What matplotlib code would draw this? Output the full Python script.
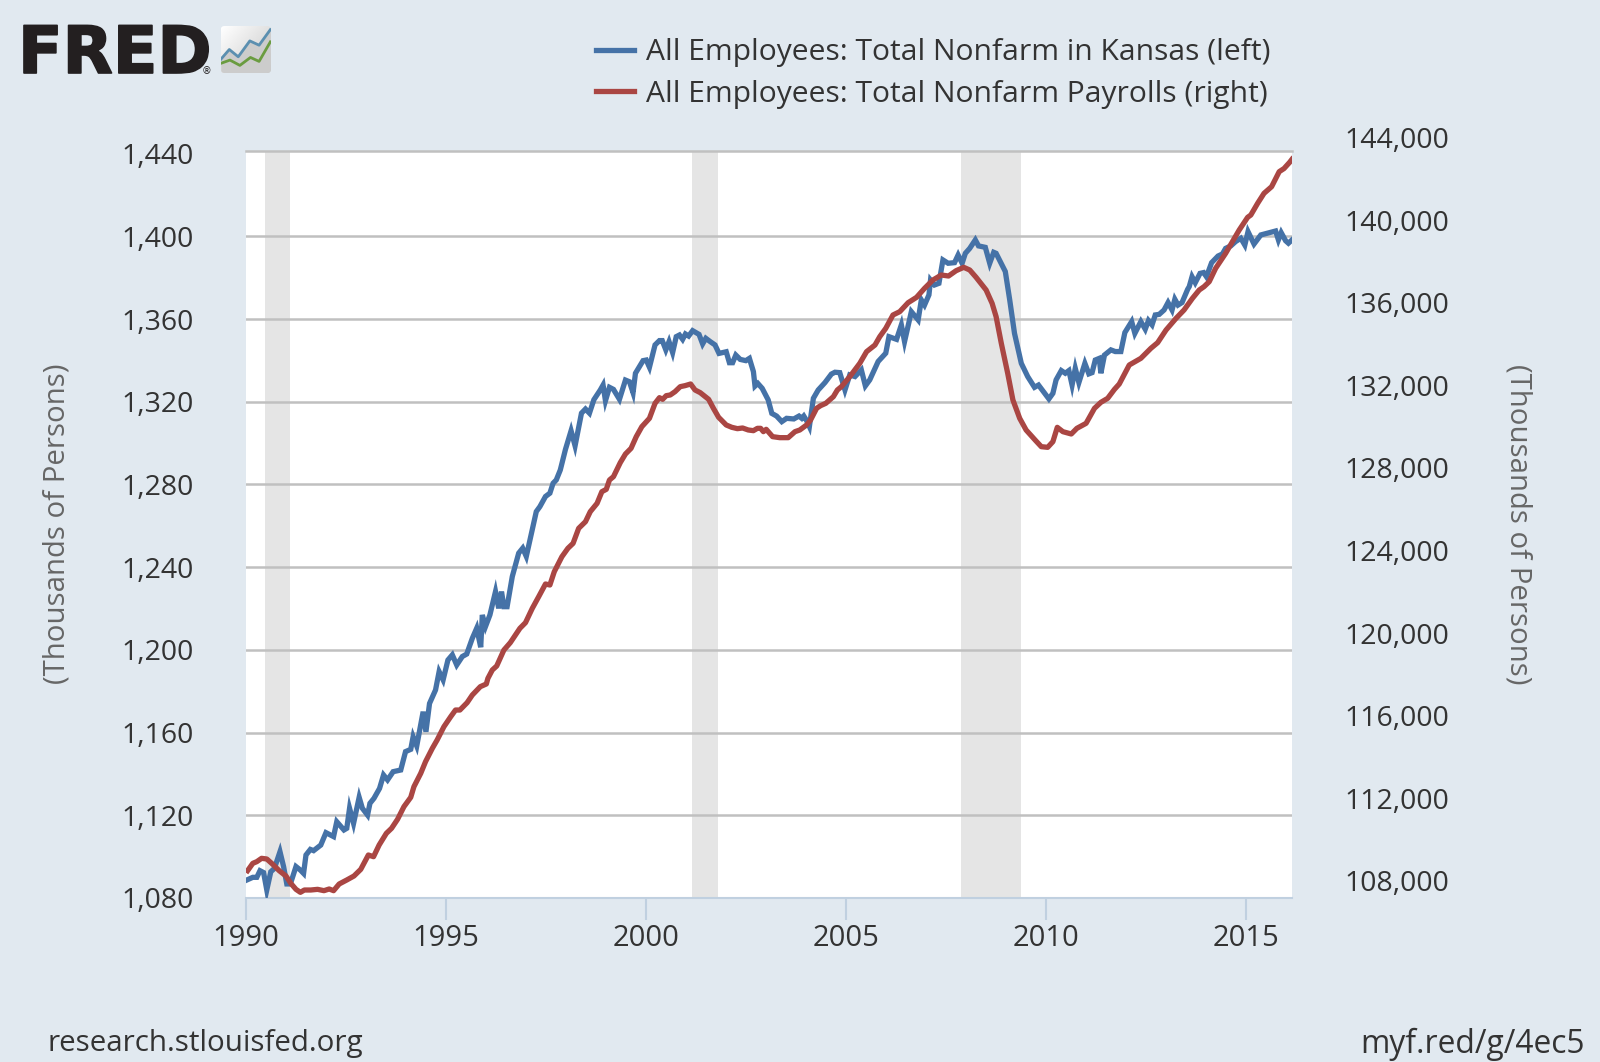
import matplotlib
matplotlib.use("Agg")
import matplotlib.pyplot as plt
import matplotlib.patheffects as pe
import numpy as np
from matplotlib.lines import Line2D
from matplotlib.patches import FancyBboxPatch
from matplotlib.ticker import StrMethodFormatter
from matplotlib.transforms import offset_copy

plt.rcParams['font.family'] = ['Open Sans', 'DejaVu Sans']

kansas_years = [1990.02,1990.17,1990.27,1990.35,1990.44,1990.52,1990.62,1990.71,1990.85,1990.94,1991.02,1991.11,1991.25,1991.36,1991.44,1991.5,1991.61,1991.69,1991.87,1992.0,1992.19,1992.27,1992.45,1992.52,1992.59,1992.69,1992.83,1992.91,1993.04,1993.1,1993.2,1993.34,1993.44,1993.54,1993.68,1993.87,1993.99,1994.12,1994.18,1994.27,1994.43,1994.5,1994.59,1994.74,1994.83,1994.93,1995.05,1995.16,1995.27,1995.41,1995.52,1995.66,1995.77,1995.87,1995.91,1995.99,1996.1,1996.24,1996.32,1996.39,1996.45,1996.53,1996.66,1996.82,1996.92,1997.01,1997.13,1997.26,1997.35,1997.49,1997.6,1997.68,1997.76,1997.86,1997.99,1998.13,1998.23,1998.39,1998.49,1998.59,1998.7,1998.86,1998.93,1998.99,1999.09,1999.19,1999.34,1999.49,1999.59,1999.68,1999.74,1999.93,2000.01,2000.09,2000.23,2000.34,2000.41,2000.5,2000.58,2000.67,2000.76,2000.84,2000.92,2000.99,2001.07,2001.17,2001.33,2001.42,2001.5,2001.61,2001.73,2001.83,2002.01,2002.09,2002.17,2002.25,2002.36,2002.5,2002.59,2002.69,2002.73,2002.8,2002.91,2003.06,2003.15,2003.27,2003.4,2003.52,2003.7,2003.83,2003.9,2003.95,2004.02,2004.09,2004.19,2004.31,2004.48,2004.64,2004.73,2004.85,2004.98,2005.1,2005.23,2005.39,2005.49,2005.6,2005.81,2006.0,2006.08,2006.27,2006.39,2006.47,2006.64,2006.81,2006.89,2006.97,2007.08,2007.12,2007.22,2007.33,2007.43,2007.56,2007.72,2007.81,2007.91,2007.99,2008.1,2008.24,2008.32,2008.49,2008.6,2008.7,2008.76,2008.99,2009.1,2009.22,2009.39,2009.55,2009.72,2009.82,2010.08,2010.18,2010.26,2010.39,2010.49,2010.58,2010.66,2010.74,2010.83,2010.98,2011.08,2011.16,2011.24,2011.34,2011.38,2011.47,2011.63,2011.74,2011.88,2011.98,2012.15,2012.23,2012.38,2012.49,2012.57,2012.66,2012.74,2012.84,2012.96,2013.06,2013.16,2013.23,2013.31,2013.41,2013.55,2013.59,2013.66,2013.74,2013.86,2013.95,2014.02,2014.15,2014.31,2014.42,2014.5,2014.63,2014.75,2014.88,2014.98,2015.06,2015.21,2015.38,2015.54,2015.75,2015.82,2015.89,2016.0,2016.07,2016.16]
kansas_values = [1088.7,1090,1090,1093.2,1092.3,1083.9,1092.7,1094.3,1102.4,1095.2,1086.8,1086.8,1095.2,1093.5,1091.9,1100.8,1103.5,1102.9,1105.6,1111.6,1109.7,1116.9,1112.9,1113.7,1123.4,1116.1,1128.7,1123.4,1120.1,1125.8,1128.2,1133,1139.5,1137.1,1141.1,1141.9,1150.8,1151.9,1158,1153.5,1170.1,1160.4,1174.1,1180.6,1189.5,1185.5,1195.1,1197.6,1192.7,1196.8,1198,1205.6,1210.5,1201.3,1216.9,1211.3,1216.9,1228.2,1220.1,1228.2,1220.9,1220.9,1235.5,1246.8,1249.2,1245.2,1255.6,1266.9,1269.3,1274.2,1275.8,1280.6,1282.2,1287,1297,1306,1298.7,1314.5,1316.5,1314.5,1321,1325.7,1328.1,1320.5,1327,1326,1321.2,1330.5,1329.7,1324.4,1333.8,1339.9,1340.2,1336.7,1347.5,1349.6,1349.6,1345.1,1349.1,1343.8,1351.5,1352.3,1350.2,1352.8,1351.8,1354.4,1352.6,1348,1350.7,1349.1,1347.5,1343.4,1344.2,1338.9,1338.9,1342.6,1340.5,1339.9,1341,1334.6,1327.6,1328.9,1326.5,1320.9,1314.4,1313.1,1310.4,1312,1311.7,1313.1,1312,1313.1,1310.9,1308,1321.7,1325.7,1329.3,1333.4,1334.3,1334.1,1325.7,1333,1332.2,1335.4,1327.7,1330.6,1339.5,1343.5,1351.5,1350.2,1357.2,1349.1,1363.6,1359.6,1369.3,1366.8,1371.7,1378.9,1376.5,1377.3,1388.6,1387,1387.3,1391,1387,1391.8,1394.2,1398.3,1395.4,1394.7,1387,1392.3,1391.8,1383,1369.3,1353.1,1338.6,1332.2,1327,1328.1,1321.4,1324.1,1330.6,1335.1,1333.8,1335.1,1328.1,1336.2,1329.3,1338.6,1333.5,1334.1,1340.2,1341,1333.8,1342.6,1345.1,1344.3,1344.3,1353.5,1358.8,1353.1,1358.8,1355.1,1359.3,1357.2,1362,1362.3,1364.4,1368,1364.4,1369.6,1366.8,1368,1374.4,1375.7,1380.5,1377.6,1382.1,1382.5,1380.5,1387.3,1390.5,1391.5,1394.2,1395.4,1397.5,1399.1,1395.8,1402.3,1396.3,1400.7,1401.5,1402.6,1398.3,1401.8,1397.9,1396.7,1398.3]

payroll_years = [1990.04,1990.17,1990.27,1990.39,1990.52,1990.66,1990.83,1991.0,1991.12,1991.25,1991.36,1991.46,1991.62,1991.79,1991.95,1992.08,1992.19,1992.33,1992.52,1992.7,1992.87,1993.06,1993.19,1993.33,1993.51,1993.64,1993.79,1993.95,1994.12,1994.2,1994.37,1994.49,1994.66,1994.78,1994.95,1995.12,1995.24,1995.35,1995.53,1995.66,1995.86,1996.01,1996.05,1996.16,1996.27,1996.45,1996.61,1996.85,1996.99,1997.16,1997.32,1997.49,1997.6,1997.71,1997.9,1998.05,1998.18,1998.32,1998.49,1998.61,1998.78,1998.9,1999.01,1999.09,1999.19,1999.36,1999.49,1999.63,1999.76,1999.9,2000.09,2000.23,2000.34,2000.42,2000.51,2000.61,2000.73,2000.86,2000.98,2001.12,2001.23,2001.36,2001.57,2001.69,2001.82,2002.01,2002.15,2002.29,2002.42,2002.56,2002.69,2002.79,2002.87,2002.94,2003.01,2003.17,2003.35,2003.56,2003.73,2003.85,2004.02,2004.12,2004.27,2004.37,2004.5,2004.69,2004.79,2004.89,2005.1,2005.35,2005.52,2005.73,2005.85,2006.0,2006.18,2006.35,2006.56,2006.77,2006.97,2007.18,2007.39,2007.57,2007.76,2007.95,2008.1,2008.26,2008.51,2008.66,2008.76,2008.89,2009.05,2009.18,2009.35,2009.51,2009.75,2009.89,2010.05,2010.18,2010.29,2010.43,2010.64,2010.78,2011.01,2011.22,2011.38,2011.55,2011.72,2011.84,2012.09,2012.38,2012.63,2012.8,2013.01,2013.26,2013.46,2013.67,2013.84,2013.96,2014.09,2014.25,2014.5,2014.67,2014.84,2015.05,2015.13,2015.3,2015.46,2015.65,2015.84,2015.96,2016.1,2016.16]
payroll_values = [109147,109502,109583,109744,109712,109470,109147,108888,108533,108242,108097,108210,108210,108242,108178,108259,108178,108501,108695,108888,109211,109905,109824,110390,110955,111197,111633,112246,112698,113215,113860,114425,115071,115475,116120,116605,116927,116927,117283,117654,118058,118187,118461,118865,119059,119833,120189,120883,121157,121851,122416,123030,122981,123627,124350,124757,124999,125726,126048,126533,126936,127501,127614,128066,128228,128906,129326,129601,130166,130650,131054,131780,132054,131974,132151,132184,132345,132587,132636,132716,132426,132297,131974,131538,131102,130731,130618,130553,130585,130489,130456,130569,130569,130408,130521,130166,130117,130117,130408,130489,130731,130973,131538,131667,131780,132103,132426,132586,133071,133716,134282,134604,135008,135412,136057,136219,136655,136913,137349,137752,137994,137946,138204,138366,138237,137881,137268,136622,135977,134685,133232,131941,131053,130488,129972,129681,129649,129923,130617,130407,130295,130569,130811,131538,131828,132022,132458,132716,133636,133959,134443,134718,135331,135896,136300,136865,137268,137430,137672,138318,139044,139609,140174,140787,140900,141465,141950,142272,142999,143150,143450,143600]

recession_starts = [1990.47, 2001.15, 2007.87]
recession_ends = [1991.11, 2001.80, 2009.37]

x_ticks = [1990, 1995, 2000, 2005, 2010, 2015]
left_ticks = [1080, 1120, 1160, 1200, 1240, 1280, 1320, 1360, 1400, 1440]
right_ticks = [108000, 112000, 116000, 120000, 124000, 128000, 132000, 136000, 140000, 144000]

kansas_label = 'All Employees: Total Nonfarm in Kansas (left)'
payroll_label = 'All Employees: Total Nonfarm Payrolls (right)'
axis_title = '(Thousands of Persons)'

BG = '#e1e9f0'
GRID = '#c0c0c0'
AXIS = '#c0d0e0'
TEXT = '#333333'
BLUE = '#4572a7'
RED = '#aa4643'
LW = 3.8

W, H = 1600, 1062
fig = plt.figure(figsize=(W / 100, H / 100), dpi=100, facecolor=BG)
ax = fig.add_axes([246 / W, 1 - 898 / H, (1292 - 246) / W, (898 - 151) / H])
ax.set_facecolor('white')
ax.set_xlim(1990, 2016.16)
ax.set_ylim(1080, 1441.3)

for start, end in zip(recession_starts, recession_ends):
    ax.axvspan(start, end, color='#e5e5e5', lw=0, zorder=0.2)

ax.set_axisbelow(True)
ax.set_yticks(left_ticks)
ax.yaxis.set_major_formatter(StrMethodFormatter('{x:,.0f}'))
ax.set_xticks(x_ticks)
ax.grid(axis='y', color=GRID, lw=1.8)
ax.yaxis.get_gridlines()[-1].set_visible(False)
ax.yaxis.get_gridlines()[0].set_visible(False)
ax.tick_params(axis='y', length=0, pad=37.5, labelsize=20.5, labelcolor=TEXT)
ax.tick_params(axis='x', length=15.8, width=1.5, color=AXIS, pad=3, labelsize=21, labelcolor=TEXT)
for side in ('left', 'right'):
    ax.spines[side].set_visible(False)
ax.spines['top'].set_color(GRID)
ax.spines['top'].set_linewidth(1.8)
ax.spines['bottom'].set_color(AXIS)
ax.spines['bottom'].set_linewidth(1.5)

ax.plot(kansas_years, kansas_values, color=BLUE, lw=LW, solid_joinstyle='miter', zorder=3)

ax2 = ax.twinx()
ax2.patch.set_visible(False)
ax2.set_ylim(107823, 144000)
ax2.set_yticks(right_ticks)
ax2.yaxis.set_major_formatter(StrMethodFormatter('{x:,.0f}'))
ax2.tick_params(axis='y', length=0, pad=38, labelsize=20.5, labelcolor=TEXT)
for spine in ax2.spines.values():
    spine.set_visible(False)
ax2.plot(payroll_years, payroll_values, color=RED, lw=LW, zorder=3)
fig.canvas.draw()
for label in ax2.get_yticklabels():
    label.set_transform(offset_copy(label.get_transform(), fig=fig, y=13.5, units='dots'))

fig.text(57 / W, 1 - 524 / H, axis_title, rotation=90, ha='center', va='center', fontsize=21.2, color='#666666')
fig.text(1518 / W, 1 - 524 / H, axis_title, rotation=270, ha='center', va='center', fontsize=21.2, color='#666666')

handles = [Line2D([], [], color=BLUE, lw=LW), Line2D([], [], color=RED, lw=LW)]
fig.legend(handles, [kansas_label, payroll_label], loc='upper left', bbox_to_anchor=(596 / W, 1 - 38 / H),
           frameon=False, fontsize=21.6, labelcolor=TEXT, handlelength=1.28, handletextpad=0.38,
           labelspacing=0.43, borderpad=0, borderaxespad=0)

fig.text(48 / W, 1 - 1044 / H, 'research.stlouisfed.org', ha='left', va='center', fontsize=21.3, color=TEXT)
fig.text(1585 / W, 1 - 1044 / H, 'myf.red/g/4ec5', ha='right', va='center', fontsize=22.9, color=TEXT)

# FRED logo
fig.text(18 / W, 1 - 73 / H, 'FRED', family='DejaVu Sans', weight='bold', fontsize=47, color='#231f20',
         ha='left', va='baseline', path_effects=[pe.withStroke(linewidth=1.2, foreground='#231f20')])
fig.text(207 / W, 1 - 71 / H, '\u00ae', family='DejaVu Sans', fontsize=7, color='#231f20', ha='center', va='center')
logo = fig.add_axes([220.7 / W, 1 - 73 / H, 50.3 / W, 47 / H])
logo.axis('off')
clip = FancyBboxPatch((674, 89), 128, 118, boxstyle='round,pad=12', transform=logo.transData, fc='none', ec='none')
logo.add_patch(clip)
grad = logo.imshow(np.linspace(0, 1, 64).reshape(1, -1) * 0.12 + np.linspace(0, 1, 64).reshape(-1, 1) * 0.1,
                   extent=(662, 814, 219, 77), cmap='gray_r', vmin=0, vmax=1, aspect='auto')
grad.set_clip_path(clip)
blue_x = [662, 688, 715, 750, 778, 812]
blue_y = [178, 148, 170, 122, 135, 88]
green_x = [662, 690, 720, 752, 778, 812]
green_y = [190, 180, 196, 172, 184, 125]
fill = logo.fill_between(blue_x, blue_y, 219, color='#cccccc', lw=0)
fill.set_clip_path(clip)
logo.plot(blue_x, blue_y, color='#5b8fb0', lw=2.0)
logo.plot(green_x, green_y, color='#6a9c40', lw=2.0)
logo.set_xlim(662, 814)
logo.set_ylim(219, 77)

fig.savefig('out.png', dpi=100, facecolor=BG)
